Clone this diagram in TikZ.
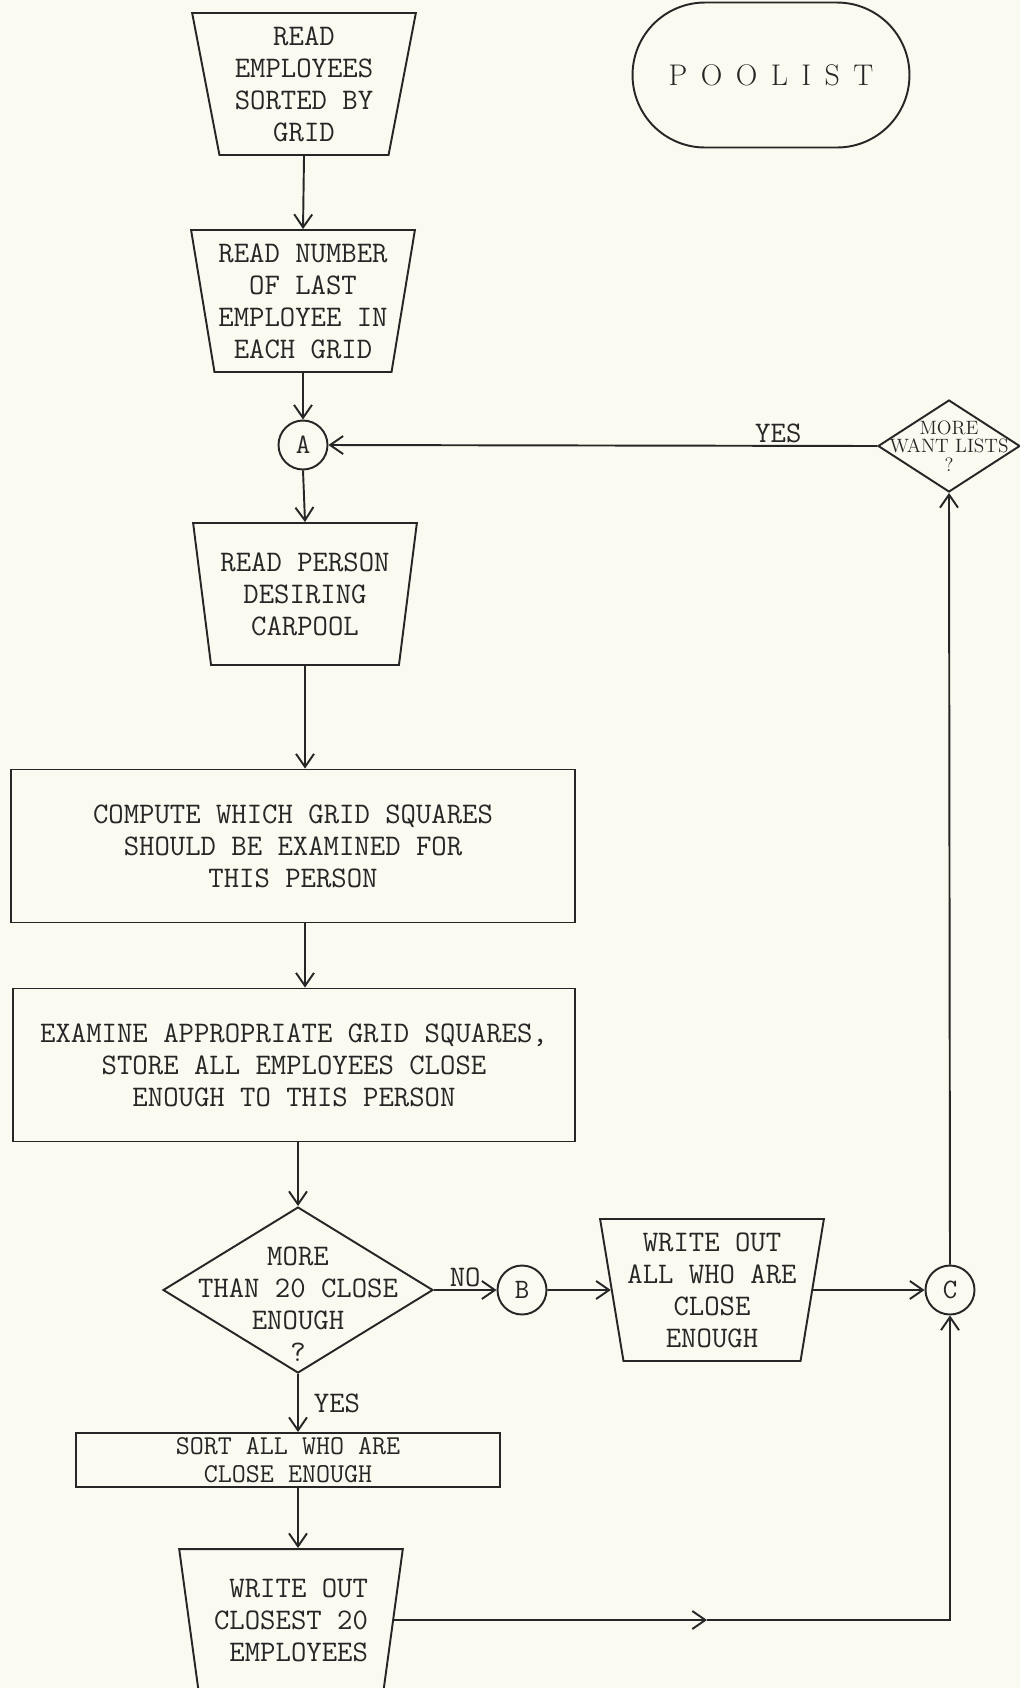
\documentclass[tikz,border=0pt]{standalone}
\usepackage{fontspec}
\usepackage{tikz}
\usetikzlibrary{arrows.meta,shapes.geometric}
\definecolor{ink}{HTML}{262626}
\definecolor{paper}{HTML}{FAFAF0}

\begin{document}
\begin{tikzpicture}[
  x=0.02cm, y=-0.02cm,
  line width=1.1pt, color=ink,
  typ/.style={font=\ttfamily\fontsize{17}{18.2}\selectfont, align=center},
  io/.style={typ, draw, trapezium, trapezium left angle=101, trapezium right angle=101, trapezium stretches=true, minimum width=4.48cm, minimum height=2.84cm, inner sep=0pt},
  proc/.style={typ, draw, rectangle, minimum height=3.06cm, inner sep=0pt},
  dec/.style={draw, diamond, inner sep=0pt},
  con/.style={draw, circle, minimum size=0.98cm, inner sep=0pt, font=\ttfamily\fontsize{16}{16}\selectfont},
  lbl/.style={typ, inner sep=0pt},
  arr/.style={-{Straight Barb[length=2.6mm,width=3.6mm]}}
]
  \useasboundingbox (0,0) rectangle (1020,1688);
  \clip (0,0) rectangle (1020,1688);
  \fill[paper] (0,0) rectangle (1020,1688);

  \node[draw, rounded corners=1.45cm, minimum width=5.54cm, minimum height=2.9cm, font=\rmfamily\fontsize{17}{18}\selectfont] (pool) at (771,75) {P\hspace{0.45em}O\hspace{0.45em}O\hspace{0.45em}L\hspace{0.45em}I\hspace{0.45em}S\hspace{0.45em}T};
  \node[io] (emp) at (304,84) {READ\\EMPLOYEES\\SORTED BY\\GRID};
  \node[io] (last) at (303,301) {READ NUMBER\\OF LAST\\EMPLOYEE IN\\EACH GRID};
  \node[con] (a) at (303,445) {A};
  \node[io] (pers) at (305,594) {READ PERSON\\DESIRING\\CARPOOL};
  \node[proc, minimum width=11.28cm] (comp) at (293,846) {COMPUTE WHICH GRID SQUARES\\SHOULD BE EXAMINED FOR\\THIS PERSON};
  \node[proc, minimum width=11.24cm] (exam) at (294,1065) {EXAMINE APPROPRIATE GRID SQUARES,\\STORE ALL EMPLOYEES CLOSE\\ENOUGH TO THIS PERSON};
  \node[dec, minimum width=5.4cm, minimum height=3.32cm, label={[typ, yshift=-0.28cm]center:{MORE\\THAN 20 CLOSE\\ENOUGH\\?}}] (q) at (298,1290) {};
  \node[con] (b) at (522,1290) {B};
  \node[io] (wall) at (712,1290) {WRITE OUT\\ALL WHO ARE\\CLOSE\\ENOUGH};
  \node[con] (c) at (950,1290) {C};
  \node[dec, minimum width=2.84cm, minimum height=1.84cm, label={[align=center, font=\rmfamily\fontsize{11}{10.5}\selectfont]center:{MORE\\WANT LISTS\\?}}] (more) at (949,446) {};
  \node[proc, minimum width=8.48cm, minimum height=1.08cm, font=\ttfamily\fontsize{15.5}{16}\selectfont] (sort) at (288,1460) {SORT ALL WHO ARE\\CLOSE ENOUGH};
  \node[io, align=right] (w20) at (291,1620) {WRITE OUT\\CLOSEST 20\\EMPLOYEES};
  \coordinate (mid) at (707,1620);
  \coordinate (crn) at (950,1620);

  \draw[arr] (emp.south) -- (last.north);
  \draw[arr] (last.south) -- (a.north);
  \draw[arr] (a.south) -- (pers.north);
  \draw[arr] (pers.south) -- (pers.south |- comp.north);
  \draw[arr] (pers.south |- comp.south) -- (pers.south |- exam.north);
  \draw[arr] (q.north |- exam.south) -- (q.north);
  \draw[arr] (q.south) -- node[lbl, right=0.3cm]{YES} (q.south |- sort.north);
  \draw[arr] (q.east) -- node[lbl, above=1pt]{NO} (b.west);
  \draw[arr] (b.east) -- (wall.west);
  \draw[arr] (wall.east) -- (c.west);
  \draw[arr] (c.north) -- (more.south);
  \draw[arr] (more.west) -- node[lbl, above=1pt, pos=0.18]{YES} (a.east);
  \draw[arr] (q.south |- sort.south) -- (q.south |- w20.north);
  \draw[arr] (w20.east) -- (mid);
  \draw[arr] (mid) -- (crn) -- (c.south);
\end{tikzpicture}
\end{document}
